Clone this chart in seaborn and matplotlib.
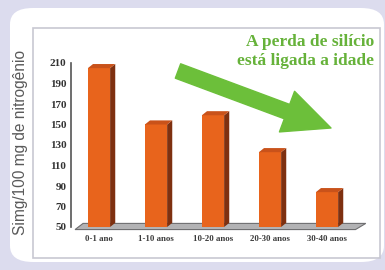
import matplotlib
matplotlib.use("Agg")
import matplotlib.pyplot as plt
from matplotlib.patches import FancyBboxPatch, Polygon, Rectangle
import seaborn as sns
import pandas as pd

# dados
faixas = ["0-1 ano", "1-10 anos", "10-20 anos", "20-30 anos", "30-40 anos"]
silicio = [205, 150, 159, 123, 84]
ticks_y = [50, 70, 90, 110, 130, 150, 170, 190, 210]

df = pd.DataFrame({"faixa": faixas, "silicio": silicio})

sns.set_style("white")
plt.rcParams["font.family"] = ["DejaVu Sans"]

W, H = 385, 270
fig = plt.figure(figsize=(W / 100, H / 100), dpi=100)
fig.patch.set_facecolor("#dcdcee")

# painel branco arredondado
painel = FancyBboxPatch((10 / W, 8 / H), 374 / W, 254 / H,
                        boxstyle="round,pad=0,rounding_size=0.06",
                        transform=fig.transFigure, facecolor="white",
                        edgecolor="none", zorder=-2)
fig.patches.append(painel)
# caixa interna
caixa = Rectangle((33 / W, 12 / H), 347 / W, 230 / H, transform=fig.transFigure,
                  facecolor="none", edgecolor="#c8c8d2", linewidth=1.2, zorder=-1)
fig.patches.append(caixa)

ax = fig.add_axes([70.5 / W, 1 - 227 / H, 285 / W, 164 / H])
ax.set_facecolor("none")
ax.set_zorder(5)

sns.barplot(data=df, x="faixa", y="silicio", ax=ax, color="#e8641c",
            width=0.39, saturation=1, edgecolor="none", zorder=3)

ax.set_ylim(50, 210)
ax.set_xlim(-0.5, 4.5)

# piso cinza
piso = Polygon([(-0.42, 47.5), (4.5, 47.5), (4.68, 53.5), (-0.28, 53.5)],
               closed=True, facecolor="#b2b2b4", edgecolor="#6e6e70",
               linewidth=0.8, clip_on=False, zorder=2)
ax.add_patch(piso)

# faces 3D das barras
dx, dy = 0.09, 4
for p in ax.patches[:len(faixas)]:
    x0, w, h = p.get_x(), p.get_width(), p.get_height()
    lado = Polygon([(x0 + w, 50), (x0 + w + dx, 50 + dy), (x0 + w + dx, h + dy), (x0 + w, h)],
                   closed=True, facecolor="#7e3010", edgecolor="none", clip_on=False, zorder=3)
    topo = Polygon([(x0, h), (x0 + dx, h + dy), (x0 + w + dx, h + dy), (x0 + w, h)],
                   closed=True, facecolor="#c9521a", edgecolor="none", clip_on=False, zorder=3)
    ax.add_patch(lado)
    ax.add_patch(topo)

ax.set_yticks(ticks_y)
ax.set_yticklabels([str(t) for t in ticks_y], fontsize=8, fontweight="bold",
                   color="#333333", family="Liberation Serif")
ax.set_xticks(range(len(faixas)))
ax.set_xticklabels(faixas, fontsize=6.3, fontweight="bold", color="#3a3a3a",
                   family="Liberation Serif")
ax.tick_params(axis="y", length=2, width=0.8, pad=1, color="#555555")
ax.tick_params(axis="x", length=0, pad=6)
ax.set_xlabel("")
ax.set_ylabel("")
sns.despine(ax=ax, bottom=True)
ax.spines["left"].set_color("#555555")
ax.spines["left"].set_linewidth(1.2)

# rotulo do eixo y
fig.text(21 / W, 1 - 142 / H, "Simg/100 mg de nitrogênio", rotation=90,
         ha="center", va="center", fontsize=11.2, color="#5a5a5a",
         family="Liberation Sans")

# titulo verde
fig.text(374 / W, 1 - 42 / H, "A perda de silício", ha="right", va="center",
         fontsize=12.5, fontweight="bold", color="#66b23a", family="Liberation Serif")
fig.text(374 / W, 1 - 61 / H, "está ligada a idade", ha="right", va="center",
         fontsize=12.5, fontweight="bold", color="#66b23a", family="Liberation Serif")

# seta verde
ax.annotate("", xy=(331, H - 128), xytext=(178, H - 71),
            xycoords="figure pixels", textcoords="figure pixels",
            arrowprops=dict(arrowstyle="simple,head_length=2.6,head_width=2.4,tail_width=0.85",
                            mutation_scale=13, color="#6cbf3a", shrinkA=0, shrinkB=0))

fig.savefig("out.png", dpi=100, facecolor=fig.get_facecolor())
